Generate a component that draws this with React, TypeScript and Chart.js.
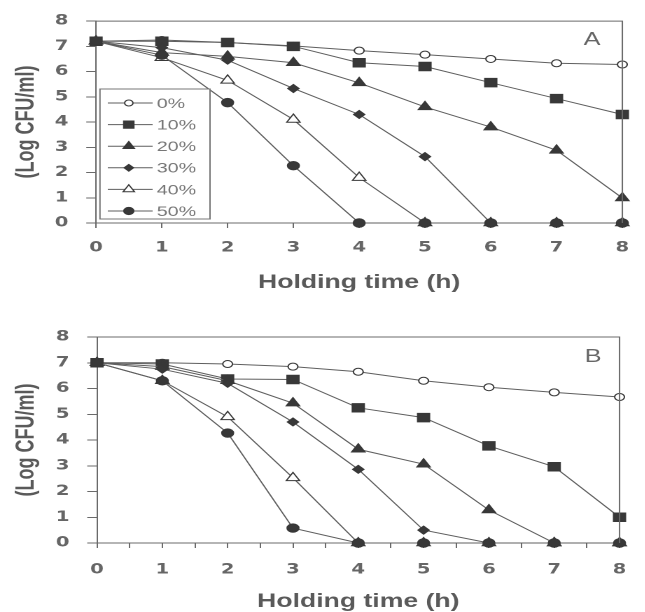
import React, { useEffect, useRef } from 'react';
import { Chart, registerables } from 'chart.js';
import { drawPoint } from 'chart.js/helpers';

Chart.register(...registerables);

// ---------- data ----------
const hours = [0, 1, 2, 3, 4, 5, 6, 7, 8];
const seriesLabels = ['0%', '10%', '20%', '30%', '40%', '50%'];
const yTickValues = [0, 1, 2, 3, 4, 5, 6, 7, 8];
const xTitle = 'Holding time (h)';
const yTitle = '(Log CFU/ml)';

const panelA0 = [7.2, 7.25, 7.15, 7.02, 6.83, 6.67, 6.5, 6.33, 6.28];
const panelA10 = [7.2, 7.2, 7.15, 7.0, 6.35, 6.2, 5.56, 4.93, 4.3];
const panelA20 = [7.2, 6.75, 6.6, 6.35, 5.55, 4.6, 3.8, 2.88, 0.99];
const panelA30 = [7.2, 6.95, 6.45, 5.33, 4.3, 2.63, 0, 0, 0];
const panelA40 = [7.2, 6.55, 5.65, 4.1, 1.8, 0, 0, 0, 0];
const panelA50 = [7.2, 6.65, 4.77, 2.27, 0, 0, 0, 0, 0];

const panelB0 = [7.0, 7.0, 6.95, 6.85, 6.65, 6.3, 6.05, 5.85, 5.67];
const panelB10 = [7.0, 6.95, 6.37, 6.35, 5.25, 4.87, 3.77, 2.96, 1.0];
const panelB20 = [7.0, 6.85, 6.3, 5.43, 3.64, 3.06, 1.28, 0, 0];
const panelB30 = [7.0, 6.75, 6.2, 4.7, 2.86, 0.5, 0, 0, 0];
const panelB40 = [7.0, 6.3, 4.9, 2.53, 0, 0, 0, 0, 0];
const panelB50 = [7.0, 6.3, 4.27, 0.58, 0, 0, 0, 0, 0];

// ---------- styling ----------
const STRETCH = 1.4; // the original figure is horizontally stretched
const CW = 461; // canvas css width before stretch
const LINE = '#5e5e5e';
const MARK = '#383838';
const AXIS = '#6a6a6a';
const TEXT = '#666';

const markerStyles = [
  { pointStyle: 'circle', radius: 3.5, fill: '#ffffff' },
  { pointStyle: 'rect', radius: 6, fill: MARK },
  { pointStyle: 'triangle', radius: 5.5, fill: MARK },
  { pointStyle: 'rectRot', radius: 4, fill: MARK },
  { pointStyle: 'triangle', radius: 5.5, fill: '#ffffff' },
  { pointStyle: 'circle', radius: 4.2, fill: MARK },
];

function buildDatasets(series: number[][]) {
  return series.map((vals, i) => ({
    label: seriesLabels[i],
    data: hours.map((h, j) => ({ x: h, y: vals[j] })),
    order: series.length - i,
    borderColor: LINE,
    borderWidth: 1,
    pointStyle: markerStyles[i].pointStyle as any,
    pointRadius: markerStyles[i].radius,
    pointBackgroundColor: markerStyles[i].fill,
    pointBorderColor: MARK,
    pointBorderWidth: 1,
    tension: 0,
    clip: false as any,
  }));
}

interface PanelGeom {
  height: number;
  left: number;
  right: number;
  top: number;
  bottom: number;
  xLabelPad: number;
  xTitlePadBottom: number;
  letter: string;
  letterX: number;
  letterY: number;
  legend: boolean;
  minorTicks: boolean;
}

const frameAndExtras = {
  id: 'frameAndExtras',
  afterDatasetsDraw(chart: any, _args: any, opts: any) {
    const ctx = chart.ctx as CanvasRenderingContext2D;
    const ca = chart.chartArea;
    ctx.save();
    // frame (top + right)
    ctx.strokeStyle = AXIS;
    ctx.lineWidth = 1;
    ctx.beginPath();
    ctx.moveTo(ca.left, ca.top);
    ctx.lineTo(ca.right, ca.top);
    ctx.lineTo(ca.right, ca.bottom);
    ctx.stroke();
    // panel letter
    ctx.fillStyle = TEXT;
    ctx.font = '18px "Liberation Sans", Arial, sans-serif';
    ctx.textAlign = 'center';
    ctx.textBaseline = 'middle';
    ctx.fillText(opts.letter, opts.letterX, opts.letterY);
    // legend
    if (opts.legend) {
      const bx = 71.4, by = 89, bw = 78.6, bh = 130;
      ctx.fillStyle = '#ffffff';
      ctx.fillRect(bx, by, bw, bh);
      ctx.strokeStyle = '#777';
      ctx.strokeRect(bx, by, bw, bh);
      ctx.font = '14px "Liberation Sans", Arial, sans-serif';
      ctx.textAlign = 'left';
      chart.data.datasets.forEach((ds: any, i: number) => {
        const y = 103 + i * 21.6;
        ctx.strokeStyle = LINE;
        ctx.lineWidth = 1;
        ctx.beginPath();
        ctx.moveTo(77, y);
        ctx.lineTo(109, y);
        ctx.stroke();
        ctx.fillStyle = ds.pointBackgroundColor;
        ctx.strokeStyle = ds.pointBorderColor;
        drawPoint(ctx, { pointStyle: ds.pointStyle, rotation: 0, borderWidth: 1, radius: ds.pointRadius * 0.85 } as any, 92, y);
        ctx.fillStyle = '#777';
        ctx.fillText(ds.label, 112, y + 1);
      });
    }
    ctx.restore();
  },
};

function makeChart(canvas: HTMLCanvasElement, series: number[][], g: PanelGeom) {
  return new Chart(canvas, {
    type: 'line',
    data: { datasets: buildDatasets(series) as any },
    plugins: [frameAndExtras],
    options: {
      animation: false,
      responsive: true,
      maintainAspectRatio: false,
      devicePixelRatio: 2,
      layout: { padding: { left: 0, right: CW - g.right, top: g.top, bottom: 0 } },
      plugins: {
        legend: { display: false },
        tooltip: { enabled: false },
        frameAndExtras: { letter: g.letter, letterX: g.letterX, letterY: g.letterY, legend: g.legend },
      } as any,
      scales: {
        x: {
          type: 'linear',
          min: 0,
          max: 8,
          afterFit: (s: any) => { s.height = g.height - g.bottom; },
          border: { display: true, color: AXIS, width: 1 },
          grid: { display: true, drawOnChartArea: false, drawTicks: true, tickLength: 5, color: AXIS },
          ticks: {
            stepSize: g.minorTicks ? 0.5 : 1,
            autoSkip: false,
            maxRotation: 0,
            minRotation: 0,
            padding: g.xLabelPad,
            color: TEXT,
            font: { family: '"DejaVu Sans", sans-serif', weight: 'bold', size: 14 },
            callback: (v: any) => (Number.isInteger(v) ? String(hours[v] ?? v) : ''),
          },
          title: {
            display: true,
            text: xTitle,
            color: '#5a5a5a',
            font: { family: '"Liberation Sans", Arial, sans-serif', weight: 'bold', size: 19, lineHeight: 1 },
            padding: { top: 0, bottom: g.xTitlePadBottom },
          },
        },
        y: {
          type: 'linear',
          min: 0,
          max: 8,
          afterFit: (s: any) => { s.width = g.left; },
          afterBuildTicks: (s: any) => { s.ticks = yTickValues.map((v) => ({ value: v })); },
          border: { display: true, color: AXIS, width: 1 },
          grid: { display: true, drawOnChartArea: false, drawTicks: true, tickLength: 7, color: AXIS },
          ticks: {
            padding: 12.7,
            color: TEXT,
            font: { family: '"DejaVu Sans", sans-serif', weight: 'bold', size: 14 },
            callback: (v: any) => String(v),
          },
          title: {
            display: true,
            text: yTitle,
            color: '#5a5a5a',
            font: { family: '"Liberation Sans", Arial, sans-serif', weight: 'bold', size: 18, lineHeight: 1 },
            padding: { top: 10, bottom: 0 },
          },
        },
      },
    } as any,
  });
}

const geomA: PanelGeom = {
  height: 300, left: 68.6, right: 454.3, top: 18, bottom: 223,
  xLabelPad: 11.6, xTitlePadBottom: 7.5,
  letter: 'A', letterX: 422.9, letterY: 40, legend: true, minorTicks: false,
};
const geomB: PanelGeom = {
  height: 312, left: 69.3, right: 455, top: 37, bottom: 243,
  xLabelPad: 13.6, xTitlePadBottom: 0.8,
  letter: 'B', letterX: 423.6, letterY: 57, legend: false, minorTicks: true,
};

export default function App() {
  const refA = useRef<HTMLCanvasElement>(null);
  const refB = useRef<HTMLCanvasElement>(null);

  useEffect(() => {
    const a = makeChart(refA.current!, [panelA0, panelA10, panelA20, panelA30, panelA40, panelA50], geomA);
    const b = makeChart(refB.current!, [panelB0, panelB10, panelB20, panelB30, panelB40, panelB50], geomB);
    return () => { a.destroy(); b.destroy(); };
  }, []);

  const panelStyle = (top: number, height: number): React.CSSProperties => ({
    position: 'absolute', left: 0, top, width: CW, height,
    transform: `scaleX(${STRETCH})`, transformOrigin: '0 0',
  });

  return (
    <div style={{ position: 'absolute', left: 0, top: 0, width: 645, height: 612, background: '#fff', overflow: 'hidden' }}>
      <div style={panelStyle(0, 300)}>
        <canvas ref={refA} />
      </div>
      <div style={panelStyle(300, 312)}>
        <canvas ref={refB} />
      </div>
    </div>
  );
}
